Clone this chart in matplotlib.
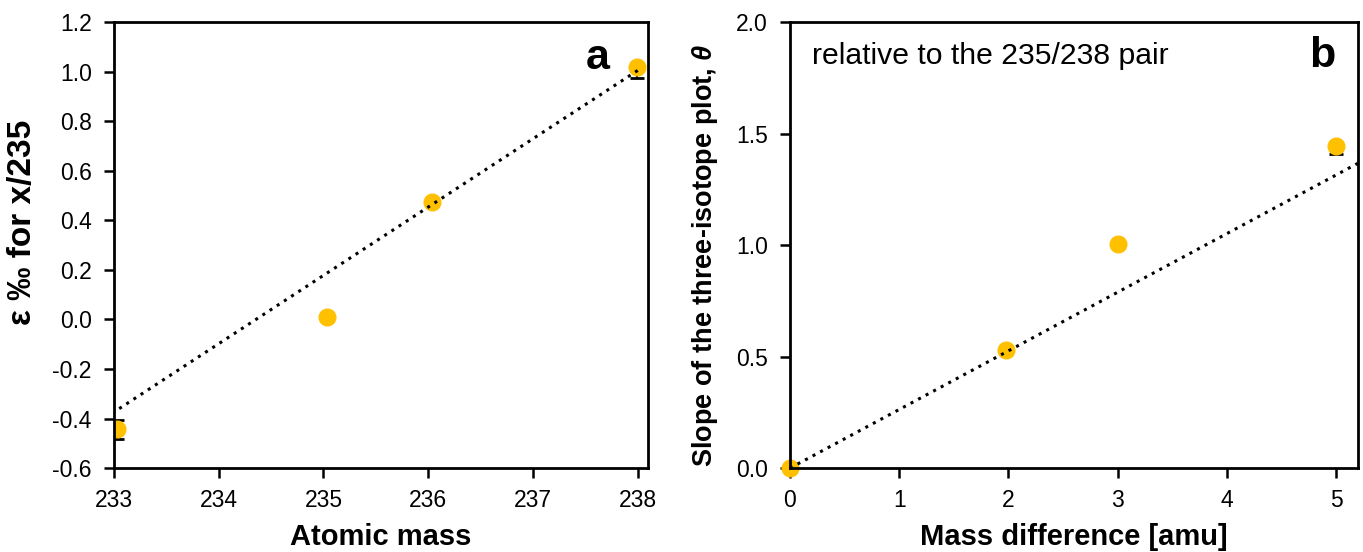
import numpy as np
import matplotlib
matplotlib.use("Agg")
import matplotlib.pyplot as plt

plt.rcParams['font.family'] = ['Liberation Sans', 'DejaVu Sans']
plt.rcParams['axes.unicode_minus'] = False
plt.rcParams['mathtext.fontset'] = 'custom'
plt.rcParams['mathtext.it'] = 'Liberation Sans:italic:bold'
plt.rcParams['mathtext.rm'] = 'Liberation Sans:bold'

# panel a: epsilon vs atomic mass
mass = [233.03, 235.03, 236.04, 237.99]
eps = [-0.443, 0.01, 0.475, 1.02]
eps_lo = [0.038, 0.01, 0.01, 0.045]
eps_hi = [0.038, 0.01, 0.01, 0.01]
fit_a_x = [233.05, 238.0]
fit_a_y = [-0.36, 1.005]

# panel b: slope vs mass difference
dmass = [0.0, 1.98, 3.0, 5.0]
theta = [0.0, 0.53, 1.005, 1.445]
theta_lo = [0.005, 0.005, 0.005, 0.035]
theta_hi = [0.005, 0.005, 0.005, 0.01]
fit_b_x = [0.0, 5.2]
fit_b_y = [0.0, 1.367]

yellow = '#FFC000'
dots = (0, (1, 1.8))

fig = plt.figure(figsize=(13.63, 5.52), dpi=100)
ax1 = fig.add_axes([0.0836, 0.152, 0.392, 0.808])
ax2 = fig.add_axes([0.5796, 0.152, 0.4167, 0.808])

for ax in (ax1, ax2):
    for s in ax.spines.values():
        s.set_linewidth(2)
        s.set_color('black')
    ax.tick_params(direction='out', length=7, width=1.8, labelsize=16.5)
    ax.tick_params(axis='y', pad=9)
    ax.tick_params(axis='x', pad=8)

# a
ax1.plot(fit_a_x, fit_a_y, color='black', linestyle=dots, linewidth=2.2, zorder=3)
ax1.errorbar(mass, eps, yerr=[eps_lo, eps_hi], fmt='none', ecolor='black',
             elinewidth=1.5, capsize=5, capthick=2, zorder=2)
ax1.plot(mass, eps, 'o', color=yellow, markersize=12, zorder=2.5)
ax1.set_xlim(233, 238.1)
ax1.set_ylim(-0.6, 1.2)
ax1.set_xticks(np.arange(233, 239, 1))
ax1.set_yticks(np.arange(-0.6, 1.21, 0.2))
ax1.set_yticklabels(['%.1f' % v for v in np.arange(-0.6, 1.21, 0.2)])
ax1.set_xlabel('Atomic mass', fontsize=21, fontweight='bold', labelpad=8)
ax1.set_ylabel('ε ‰ for x/235', fontsize=24, fontweight='bold')
ax1.yaxis.set_label_coords(-0.142, 0.55)
ax1.text(0.906, 0.92, 'a', transform=ax1.transAxes, fontsize=31, fontweight='bold',
         ha='center', va='center')

# b
ax2.plot(fit_b_x, fit_b_y, color='black', linestyle=dots, linewidth=2.2, zorder=3)
ax2.errorbar(dmass, theta, yerr=[theta_lo, theta_hi], fmt='none', ecolor='black',
             elinewidth=1.5, capsize=5, capthick=2, zorder=2)
ax2.plot(dmass, theta, 'o', color=yellow, markersize=12, zorder=2.5, clip_on=False)
ax2.set_xlim(0, 5.2)
ax2.set_ylim(0, 2.0)
ax2.set_xticks(np.arange(0, 6, 1))
ax2.set_yticks(np.arange(0, 2.01, 0.5))
ax2.set_yticklabels(['%.1f' % v for v in np.arange(0, 2.01, 0.5)])
ax2.set_xlabel('Mass difference [amu]', fontsize=21, fontweight='bold', labelpad=8)
ax2.set_ylabel('Slope of the three-isotope plot, $\\theta$', fontsize=19.5,
               fontweight='bold')
ax2.yaxis.set_label_coords(-0.123, 0.478)
ax2.text(0.039, 0.925, 'relative to the 235/238 pair', transform=ax2.transAxes,
         fontsize=21.7, ha='left', va='center')
ax2.text(0.938, 0.925, 'b', transform=ax2.transAxes, fontsize=31, fontweight='bold',
         ha='center', va='center')

fig.savefig('out.png', dpi=100)
